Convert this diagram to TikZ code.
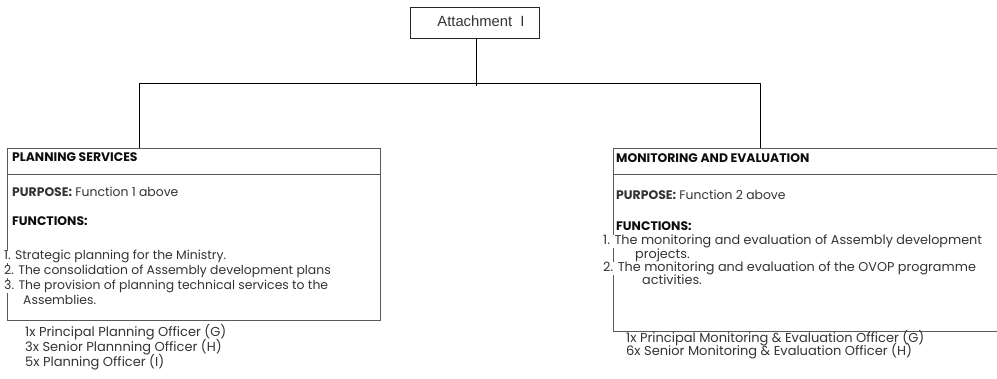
\documentclass[tikz,border=0pt]{standalone}
\usepackage{fontspec}
\setmainfont{Poppins}
\newfontfamily\labelfont{Liberation Sans}
\begin{document}
\begin{tikzpicture}[x=1pt,y=-1pt,
  frame/.style={draw=black!65, line width=0.9pt, inner sep=0pt},
  topframe/.style={draw=black!85, line width=0.9pt, inner sep=0pt},
  link/.style={draw=black, line width=0.9pt},
  body/.style={inner sep=0pt, anchor=base west, text=black!80, font=\fontsize{12.4}{14}\selectfont},
  head/.style={body, text=black!95, font=\fontsize{12.4}{14}\selectfont\bfseries},
  listline/.style={body, fill=white},
  wideline/.style={listline, font=\fontsize{12.8}{14}\selectfont},
  staff/.style={body, font=\fontsize{13}{15}\selectfont},
]
\useasboundingbox (0,0) rectangle (997,379);
\clip (0,0) rectangle (997,379);

% title box
\node[topframe, minimum width=129pt, minimum height=31pt] (top) at (475,23) {};
\node[inner sep=0pt, font=\labelfont\fontsize{14.8}{16}\selectfont, text=black!80] (toplabel) at (481,21) {Attachment\ \ I};

% unit frames
\node[frame, anchor=north west, minimum width=373pt, minimum height=172pt] (plan) at (7,148) {};
\node[frame, anchor=north west, minimum width=420pt, minimum height=183pt] (mon) at (613,148) {};
\coordinate (planhl) at (7,174);
\coordinate (planhr) at (380,174);
\coordinate (monhl) at (613,174);
\coordinate (monhr) at (1033,174);
\draw[frame] (planhl) -- (planhr);
\draw[frame] (monhl) -- (monhr);

% connectors
\coordinate (busL) at (139,83);
\coordinate (busR) at (760,83);
\coordinate (busM) at (476,86);
\draw[link] (top.south -| busM) -- (busM);
\draw[link] (plan.north -| busL) -- (busL) -- (busR) -- (mon.north -| busR);

% planning services
\node[head] (ptitle) at (12,162) {PLANNING SERVICES};
\node[body] (ppurp) at (12,197) {\textbf{PURPOSE:} Function 1 above};
\node[head] (pfunc) at (12,226) {FUNCTIONS:};
\node[listline] (pf1) at (4,260) {1. Strategic planning for the Ministry.};
\node[listline] (pf2) at (4,275) {2. The consolidation of Assembly development plans};
\node[listline] (pf3) at (4,290) {3. The provision of planning technical services to the};
\node[body] (pf3b) at (23,305) {Assemblies.};
\node[staff] (ps1) at (25,337) {1x Principal Planning Officer (G)};
\node[staff] (ps2) at (25,352) {3x Senior Plannning Officer (H)};
\node[staff] (ps3) at (25,367) {5x Planning Officer (I)};

% monitoring and evaluation
\node[head] (mtitle) at (616,163) {MONITORING AND EVALUATION};
\node[body] (mpurp) at (616,200) {\textbf{PURPOSE:} Function 2 above};
\node[head] (mfunc) at (616,231) {FUNCTIONS:};
\node[wideline] (mf1) at (603,245) {1. The monitoring and evaluation of Assembly development};
\node[body, font=\fontsize{12.8}{14}\selectfont] (mf1b) at (635,259) {projects.};
\node[wideline] (mf2) at (603,272) {2. The monitoring and evaluation of the OVOP programme};
\node[body, font=\fontsize{12.8}{14}\selectfont] (mf2b) at (642,285) {activities.};
\node[staff] (ms1) at (626,343) {1x Principal Monitoring \& Evaluation Officer (G)};
\node[staff] (ms2) at (626,356) {6x Senior Monitoring \& Evaluation Officer (H)};
\end{tikzpicture}
\end{document}
